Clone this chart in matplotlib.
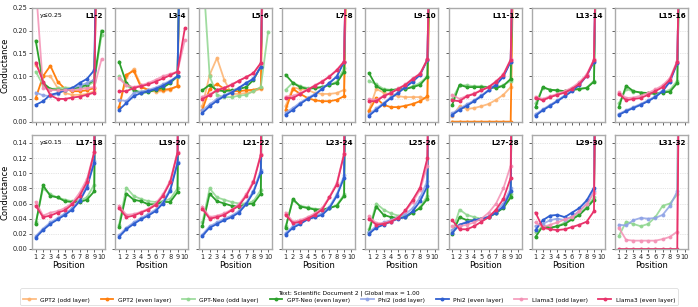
import matplotlib
matplotlib.use("Agg")
import matplotlib.pyplot as plt
import numpy as np

positions = list(range(1, 11))
panel_labels = ["L1-2", "L3-4", "L5-6", "L7-8", "L9-10", "L11-12", "L13-14", "L15-16",
                "L17-18", "L19-20", "L21-22", "L23-24", "L25-26", "L27-28", "L29-30", "L31-32"]
row_caps = [0.25, 0.15]

# one row per panel (16), 10 positions each; None = model has no such layer
gpt2_odd = [
    [0.125, 0.100, 0.100, 0.074, 0.063, 0.059, 0.059, 0.061, 0.067, 1.0],
    [0.030, 0.098, 0.116, 0.080, 0.068, 0.066, 0.067, 0.070, 0.078, 1.0],
    [0.034, 0.103, 0.140, 0.092, 0.061, 0.061, 0.063, 0.067, 0.072, 1.0],
    [0.035, 0.075, 0.072, 0.070, 0.063, 0.061, 0.061, 0.063, 0.070, 1.0],
    [0.025, 0.072, 0.064, 0.059, 0.056, 0.054, 0.054, 0.054, 0.050, 1.0],
    [0.012, 0.034, 0.028, 0.030, 0.034, 0.039, 0.048, 0.059, 0.076, 1.0],
] + [None] * 10
gpt2_even = [
    [0.052, 0.100, 0.123, 0.088, 0.072, 0.067, 0.067, 0.069, 0.074, 1.0],
    [0.032, 0.103, 0.112, 0.076, 0.070, 0.069, 0.070, 0.072, 0.078, 1.0],
    [0.026, 0.072, 0.083, 0.072, 0.067, 0.067, 0.069, 0.070, 0.074, 1.0],
    [0.026, 0.072, 0.061, 0.052, 0.047, 0.045, 0.045, 0.048, 0.056, 1.0],
    [0.023, 0.052, 0.037, 0.032, 0.032, 0.035, 0.039, 0.045, 0.056, 1.0],
    [0.0, 0.0, 0.0, 0.0, 0.0, 0.0, 0.0, 0.0, 0.0, 1.0],
] + [None] * 10
neo_odd = [
    [0.110, 0.080, 0.072, 0.073, 0.075, 0.074, 0.073, 0.078, 0.088, 0.190],
    [0.100, 0.080, 0.068, 0.066, 0.068, 0.072, 0.078, 0.088, 0.098, 1.0],
    [0.350, 0.100, 0.059, 0.054, 0.054, 0.057, 0.059, 0.067, 0.076, 0.198],
    [0.070, 0.086, 0.078, 0.074, 0.074, 0.076, 0.081, 0.088, 0.117, 1.0],
    [0.090, 0.082, 0.072, 0.070, 0.070, 0.072, 0.078, 0.085, 0.100, 1.0],
    [0.050, 0.080, 0.080, 0.078, 0.078, 0.076, 0.076, 0.080, 0.090, 1.0],
    [0.040, 0.075, 0.070, 0.068, 0.067, 0.069, 0.072, 0.075, 0.090, 1.0],
    [0.040, 0.072, 0.066, 0.064, 0.062, 0.062, 0.065, 0.070, 0.090, 1.0],
    [0.035, 0.080, 0.072, 0.068, 0.065, 0.063, 0.064, 0.068, 0.085, 1.0],
    [0.032, 0.081, 0.070, 0.066, 0.063, 0.062, 0.063, 0.066, 0.080, 1.0],
    [0.035, 0.080, 0.068, 0.065, 0.062, 0.060, 0.060, 0.063, 0.078, 1.0],
    [0.030, 0.064, 0.057, 0.055, 0.053, 0.052, 0.054, 0.058, 0.072, 1.0],
    [0.026, 0.060, 0.052, 0.047, 0.044, 0.044, 0.048, 0.055, 0.070, 1.0],
    [0.022, 0.052, 0.045, 0.042, 0.040, 0.042, 0.047, 0.055, 0.072, 1.0],
    [0.022, 0.030, 0.028, 0.030, 0.035, 0.040, 0.047, 0.055, 0.068, 1.0],
    [0.017, 0.036, 0.033, 0.030, 0.033, 0.042, 0.057, 0.060, 0.072, 1.0],
]
neo_even = [
    [0.178, 0.085, 0.072, 0.070, 0.070, 0.072, 0.076, 0.081, 0.092, 0.200],
    [0.132, 0.085, 0.070, 0.063, 0.065, 0.070, 0.075, 0.085, 0.100, 1.0],
    [0.069, 0.081, 0.069, 0.067, 0.069, 0.072, 0.076, 0.092, 0.121, 1.0],
    [0.103, 0.085, 0.076, 0.072, 0.074, 0.076, 0.081, 0.085, 0.110, 1.0],
    [0.107, 0.078, 0.069, 0.069, 0.072, 0.072, 0.076, 0.081, 0.099, 1.0],
    [0.037, 0.081, 0.076, 0.076, 0.076, 0.076, 0.074, 0.079, 0.094, 1.0],
    [0.032, 0.076, 0.070, 0.069, 0.067, 0.070, 0.072, 0.074, 0.088, 1.0],
    [0.032, 0.079, 0.067, 0.064, 0.063, 0.061, 0.064, 0.066, 0.085, 1.0],
    [0.033, 0.084, 0.070, 0.068, 0.063, 0.062, 0.062, 0.065, 0.076, 1.0],
    [0.029, 0.073, 0.065, 0.063, 0.059, 0.059, 0.062, 0.062, 0.075, 1.0],
    [0.030, 0.073, 0.063, 0.060, 0.057, 0.056, 0.059, 0.060, 0.073, 1.0],
    [0.028, 0.066, 0.056, 0.054, 0.052, 0.052, 0.054, 0.057, 0.070, 1.0],
    [0.023, 0.056, 0.045, 0.042, 0.041, 0.042, 0.048, 0.054, 0.066, 1.0],
    [0.020, 0.042, 0.038, 0.038, 0.039, 0.042, 0.048, 0.054, 0.068, 1.0],
    [0.016, 0.030, 0.028, 0.030, 0.033, 0.039, 0.045, 0.054, 0.065, 1.0],
    None,
]
phi2_odd = [
    [0.064, 0.058, 0.056, 0.061, 0.070, 0.074, 0.079, 0.085, 0.092, 1.0],
    [0.048, 0.045, 0.063, 0.066, 0.070, 0.075, 0.082, 0.090, 0.100, 1.0],
    [0.025, 0.038, 0.050, 0.058, 0.066, 0.075, 0.085, 0.095, 0.120, 1.0],
    [0.020, 0.030, 0.042, 0.052, 0.061, 0.073, 0.086, 0.100, 0.132, 1.0],
    [0.016, 0.029, 0.041, 0.054, 0.065, 0.077, 0.090, 0.104, 0.136, 1.0],
    [0.018, 0.029, 0.038, 0.047, 0.058, 0.070, 0.083, 0.100, 0.132, 1.0],
    [0.016, 0.027, 0.037, 0.047, 0.058, 0.069, 0.083, 0.102, 0.133, 1.0],
    [0.017, 0.025, 0.032, 0.039, 0.047, 0.056, 0.069, 0.090, 0.130, 1.0],
    [0.017, 0.027, 0.035, 0.041, 0.047, 0.054, 0.065, 0.083, 0.116, 1.0],
    [0.018, 0.028, 0.035, 0.041, 0.046, 0.052, 0.062, 0.079, 0.115, 1.0],
    [0.019, 0.030, 0.035, 0.040, 0.044, 0.050, 0.061, 0.077, 0.104, 1.0],
    [0.021, 0.030, 0.035, 0.041, 0.044, 0.047, 0.056, 0.072, 0.097, 1.0],
    [0.022, 0.030, 0.035, 0.038, 0.042, 0.046, 0.054, 0.068, 0.090, 1.0],
    [0.025, 0.032, 0.036, 0.038, 0.040, 0.043, 0.050, 0.060, 0.080, 1.0],
    [0.030, 0.033, 0.038, 0.040, 0.038, 0.043, 0.050, 0.060, 0.076, 1.0],
    [0.032, 0.031, 0.038, 0.041, 0.040, 0.041, 0.045, 0.057, 0.076, 1.0],
]
phi2_even = [
    [0.037, 0.045, 0.059, 0.063, 0.069, 0.074, 0.085, 0.094, 0.113, 1.0],
    [0.026, 0.041, 0.056, 0.063, 0.067, 0.072, 0.079, 0.088, 0.100, 1.0],
    [0.019, 0.034, 0.046, 0.056, 0.064, 0.074, 0.085, 0.094, 0.121, 1.0],
    [0.015, 0.026, 0.039, 0.050, 0.059, 0.072, 0.085, 0.099, 0.132, 1.0],
    [0.013, 0.026, 0.039, 0.052, 0.063, 0.076, 0.088, 0.103, 0.136, 1.0],
    [0.015, 0.026, 0.035, 0.045, 0.056, 0.069, 0.081, 0.099, 0.132, 1.0],
    [0.013, 0.025, 0.035, 0.045, 0.056, 0.067, 0.081, 0.101, 0.132, 1.0],
    [0.015, 0.023, 0.030, 0.037, 0.045, 0.054, 0.067, 0.088, 0.129, 1.0],
    [0.015, 0.025, 0.033, 0.039, 0.045, 0.052, 0.063, 0.081, 0.114, 1.0],
    [0.016, 0.026, 0.033, 0.039, 0.044, 0.050, 0.060, 0.077, 0.113, 1.0],
    [0.017, 0.028, 0.033, 0.038, 0.042, 0.048, 0.059, 0.075, 0.101, 1.0],
    [0.019, 0.028, 0.033, 0.039, 0.042, 0.045, 0.054, 0.070, 0.094, 1.0],
    [0.020, 0.028, 0.032, 0.036, 0.040, 0.042, 0.050, 0.063, 0.083, 1.0],
    [0.021, 0.032, 0.035, 0.038, 0.040, 0.042, 0.048, 0.056, 0.076, 1.0],
    [0.025, 0.038, 0.044, 0.045, 0.042, 0.048, 0.054, 0.064, 0.081, 1.0],
    None,
]
llama3_odd = [
    [0.300, 0.074, 0.070, 0.069, 0.069, 0.070, 0.071, 0.074, 0.076, 0.137],
    [0.095, 0.080, 0.076, 0.080, 0.085, 0.092, 0.100, 0.105, 0.110, 0.180],
    [0.055, 0.060, 0.070, 0.075, 0.082, 0.090, 0.098, 0.106, 0.128, 1.0],
    [0.055, 0.057, 0.063, 0.071, 0.080, 0.089, 0.100, 0.114, 0.133, 1.0],
    [0.050, 0.048, 0.057, 0.064, 0.073, 0.082, 0.095, 0.106, 0.137, 1.0],
    [0.059, 0.050, 0.057, 0.062, 0.070, 0.077, 0.089, 0.104, 0.137, 1.0],
    [0.055, 0.050, 0.056, 0.061, 0.067, 0.075, 0.087, 0.104, 0.137, 1.0],
    [0.065, 0.052, 0.053, 0.057, 0.063, 0.071, 0.080, 0.096, 0.134, 1.0],
    [0.062, 0.044, 0.048, 0.050, 0.054, 0.061, 0.074, 0.092, 0.128, 1.0],
    [0.057, 0.045, 0.046, 0.049, 0.053, 0.060, 0.072, 0.090, 0.128, 1.0],
    [0.056, 0.042, 0.044, 0.047, 0.052, 0.059, 0.072, 0.090, 0.125, 1.0],
    [0.048, 0.036, 0.038, 0.042, 0.047, 0.054, 0.069, 0.087, 0.126, 1.0],
    [0.043, 0.034, 0.034, 0.037, 0.042, 0.050, 0.062, 0.078, 0.110, 1.0],
    [0.030, 0.030, 0.032, 0.035, 0.040, 0.048, 0.060, 0.080, 0.110, 1.0],
    [0.035, 0.029, 0.032, 0.035, 0.039, 0.042, 0.050, 0.059, 0.074, 1.0],
    [0.028, 0.012, 0.011, 0.011, 0.011, 0.011, 0.013, 0.016, 0.023, 1.0],
]
llama3_even = [
    [0.130, 0.088, 0.058, 0.050, 0.050, 0.053, 0.055, 0.059, 0.064, 1.0],
    [0.067, 0.067, 0.074, 0.078, 0.082, 0.088, 0.095, 0.102, 0.110, 0.205],
    [0.050, 0.058, 0.069, 0.074, 0.081, 0.090, 0.098, 0.107, 0.129, 1.0],
    [0.052, 0.052, 0.061, 0.070, 0.079, 0.088, 0.099, 0.113, 0.132, 1.0],
    [0.045, 0.045, 0.056, 0.063, 0.072, 0.081, 0.094, 0.105, 0.137, 1.0],
    [0.047, 0.045, 0.056, 0.061, 0.069, 0.076, 0.088, 0.103, 0.136, 1.0],
    [0.052, 0.047, 0.054, 0.059, 0.064, 0.072, 0.083, 0.101, 0.136, 1.0],
    [0.061, 0.047, 0.050, 0.052, 0.059, 0.067, 0.076, 0.092, 0.132, 1.0],
    [0.057, 0.042, 0.044, 0.048, 0.051, 0.059, 0.070, 0.088, 0.128, 1.0],
    [0.054, 0.042, 0.044, 0.048, 0.052, 0.058, 0.070, 0.088, 0.127, 1.0],
    [0.053, 0.040, 0.042, 0.045, 0.051, 0.057, 0.070, 0.088, 0.124, 1.0],
    [0.045, 0.034, 0.036, 0.040, 0.045, 0.052, 0.068, 0.085, 0.125, 1.0],
    [0.040, 0.032, 0.033, 0.036, 0.041, 0.051, 0.065, 0.081, 0.120, 1.0],
    [0.038, 0.026, 0.026, 0.030, 0.036, 0.042, 0.052, 0.066, 0.094, 1.0],
    [0.048, 0.028, 0.026, 0.025, 0.026, 0.029, 0.032, 0.036, 0.050, 1.0],
    [0.0, 0.0, 0.0, 0.0, 0.0, 0.0, 0.0, 0.0, 0.0, 1.0],
]

series = [
    ("GPT2 (odd layer)", gpt2_odd, "#fdb26e", 0.85),
    ("GPT2 (even layer)", gpt2_even, "#ff7f0e", 1.0),
    ("GPT-Neo (odd layer)", neo_odd, "#8fd68f", 0.85),
    ("GPT-Neo (even layer)", neo_even, "#2ca02c", 1.0),
    ("Phi2 (odd layer)", phi2_odd, "#8fa3e6", 0.85),
    ("Phi2 (even layer)", phi2_even, "#2f5fd0", 1.0),
    ("Llama3 (odd layer)", llama3_odd, "#f490b4", 0.85),
    ("Llama3 (even layer)", llama3_even, "#e8336a", 1.0),
]

plt.rcParams["font.family"] = "DejaVu Sans"

fig, axes = plt.subplots(2, 8, figsize=(6.98, 3.07), dpi=100, sharex=True)
fig.subplots_adjust(left=0.046, right=0.986, top=0.974, bottom=0.189,
                    wspace=0.14, hspace=0.12)

for idx, ax in enumerate(axes.flat):
    row, col = divmod(idx, 8)
    cap = row_caps[row]
    for name, data, color, alpha in series:
        vals = data[idx]
        if vals is None:
            continue
        ax.plot(positions, vals, color=color, alpha=alpha, lw=1.3,
                marker="o", ms=1.8, label=name)
    ax.set_ylim(0, cap)
    ax.set_xlim(0.5, 10.5)
    ax.set_xticks(positions)
    if row == 0:
        ax.set_yticks(np.arange(0, 0.251, 0.05))
    else:
        ax.set_yticks(np.arange(0, 0.141, 0.02))
    ax.grid(axis="y", linestyle=":", lw=0.5, color="#cccccc")
    ax.tick_params(labelsize=4.8, length=2, width=0.5, pad=1.5, colors="#222222")
    for sp in ax.spines.values():
        sp.set_color("#aaaaaa")
        sp.set_linewidth(1.0)
    ax.text(0.97, 0.96, panel_labels[idx], transform=ax.transAxes, ha="right",
            va="top", fontsize=5.2, fontweight="bold")
    if col == 0:
        ax.text(0.1, 0.96, f"y\u2264{cap}", transform=ax.transAxes, ha="left",
                va="top", fontsize=4.5)
        ax.set_ylabel("Conductance", fontsize=6, labelpad=2)
        ax.yaxis.set_major_formatter(matplotlib.ticker.FormatStrFormatter("%.2f"))
    else:
        ax.tick_params(labelleft=False)
    if row == 1:
        ax.set_xlabel("Position", fontsize=6, labelpad=1)
    else:
        ax.tick_params(labelbottom=False)

handles, labels = axes[0, 0].get_legend_handles_labels()
leg = fig.legend(handles, labels, loc="upper center", bbox_to_anchor=(0.5, 0.07),
                 ncol=8, fontsize=4.2, title="Text: Scientific Document 2 | Global max = 1.00",
                 title_fontsize=4.2, frameon=True, handlelength=2.2, columnspacing=1.8,
                 borderpad=0.4, labelspacing=0.2)
leg.get_frame().set_linewidth(0.5)
leg.get_frame().set_edgecolor("#cccccc")

fig.savefig("out.png", dpi=100)
